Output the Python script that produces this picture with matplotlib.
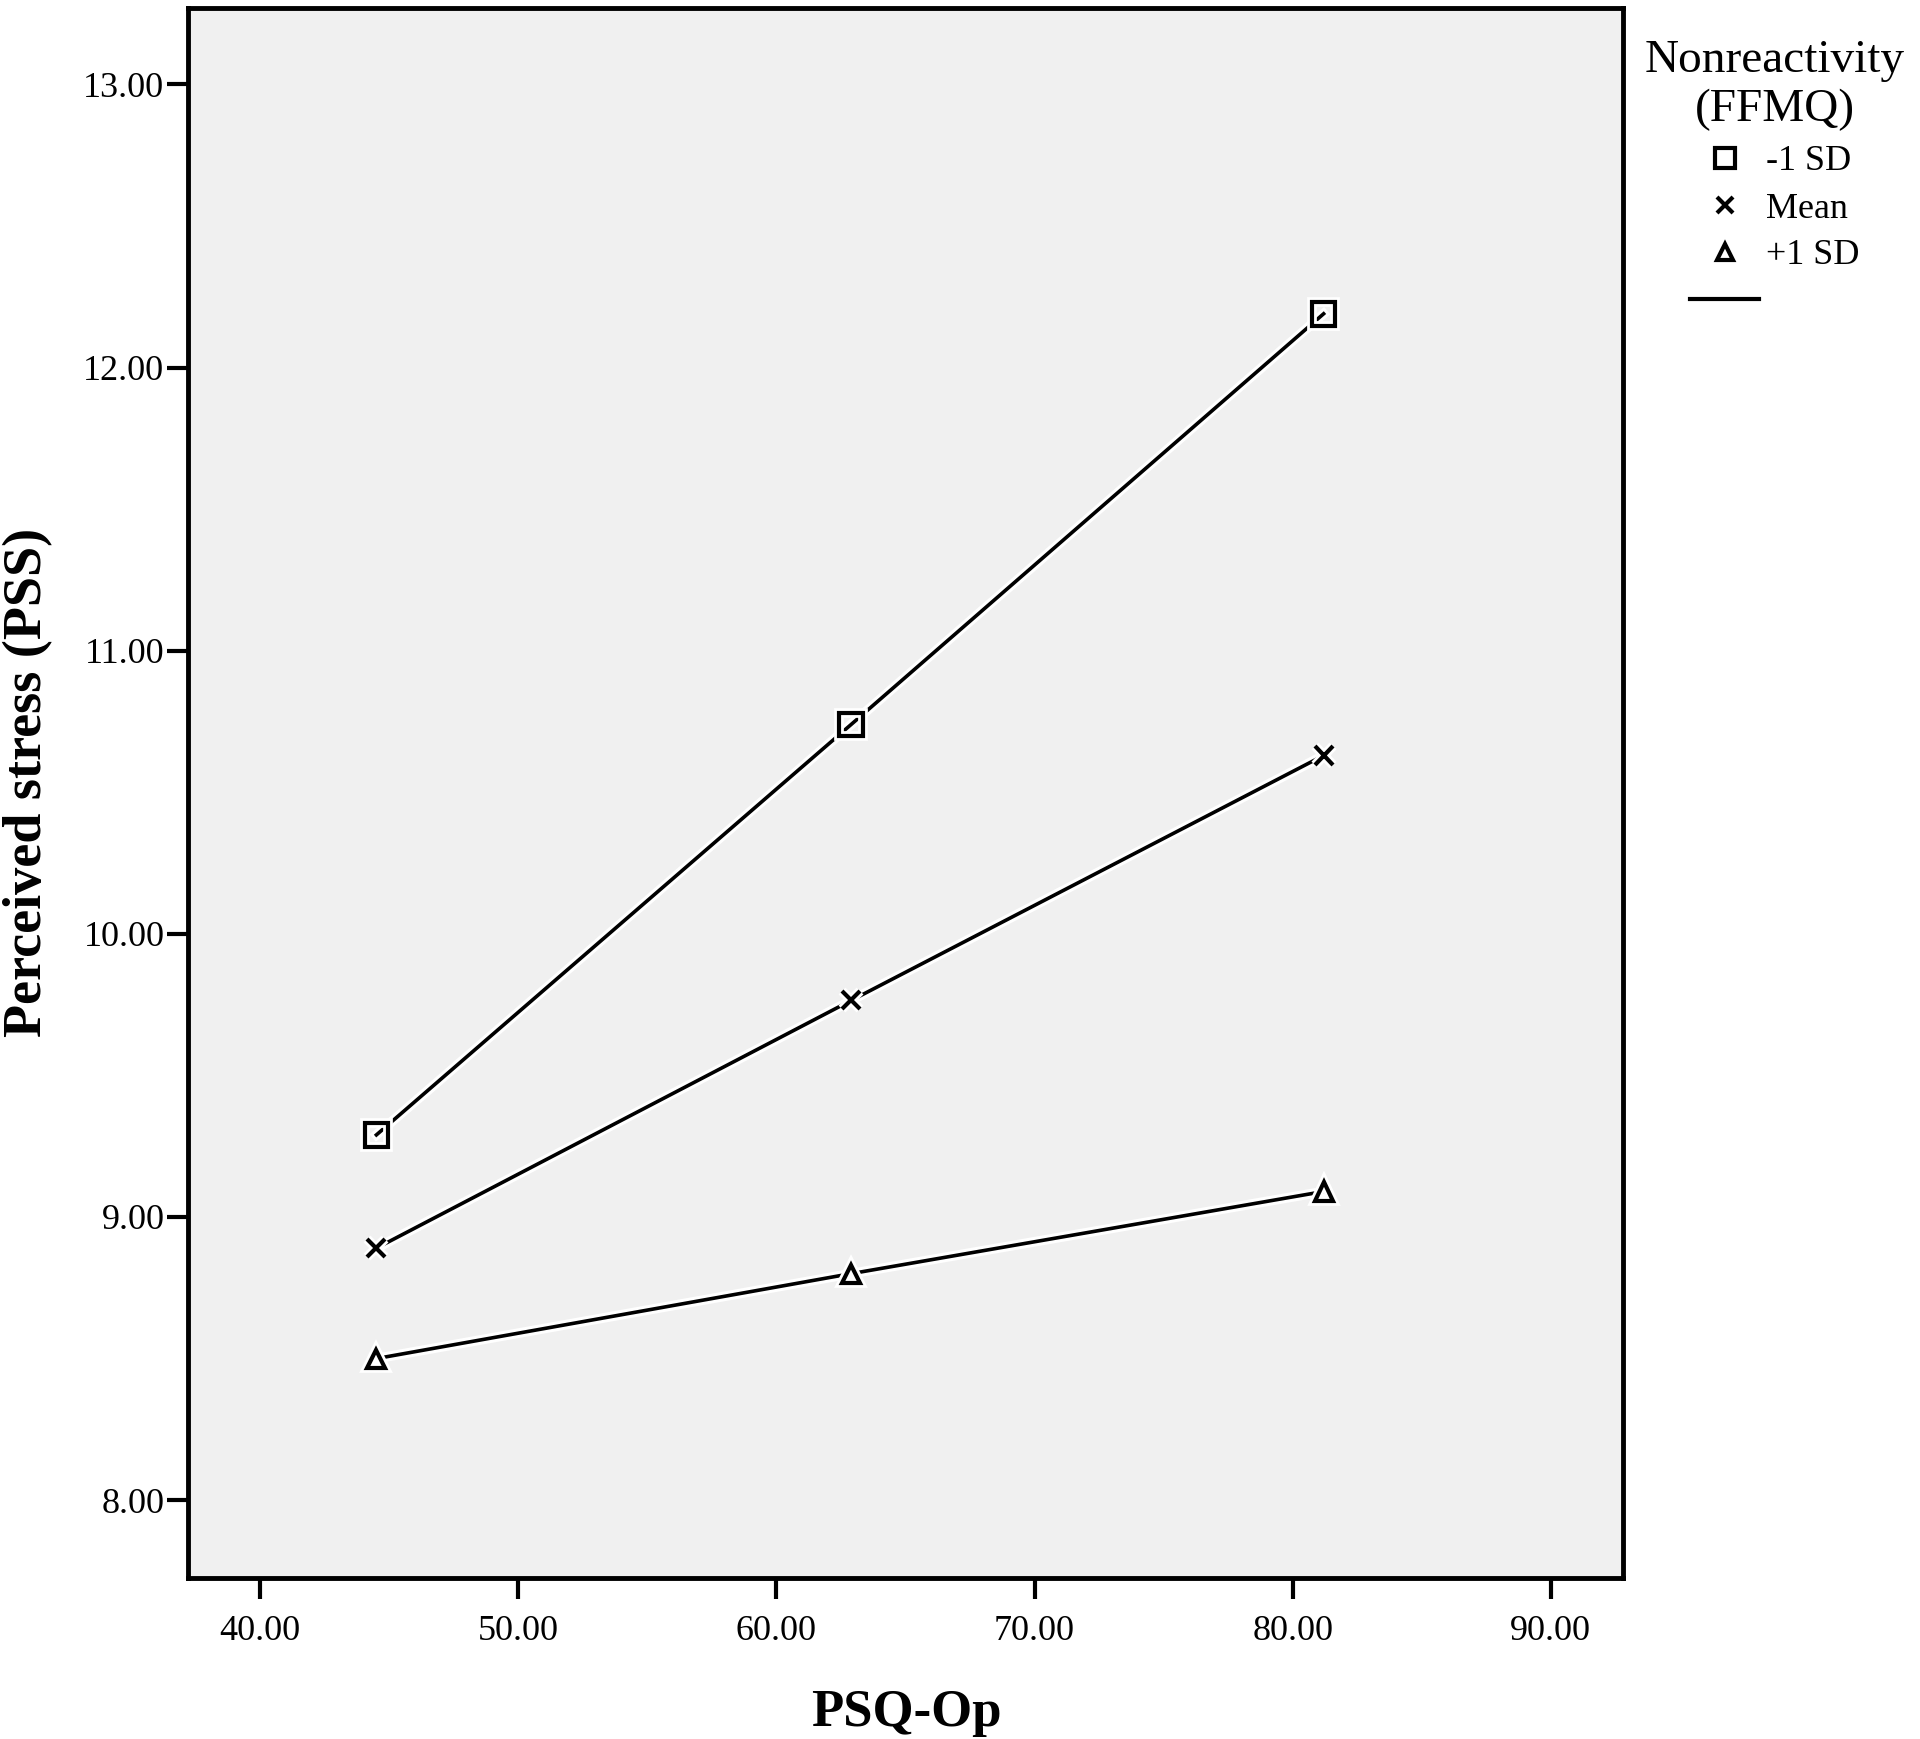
import matplotlib
matplotlib.use("Agg")
import matplotlib.pyplot as plt
from matplotlib.lines import Line2D
import matplotlib.patheffects as pe

# Data
psq_op = [44.5, 62.9, 81.2]
minus_1sd = [9.29, 10.74, 12.19]
mean_vals = [8.89, 9.765, 10.63]
plus_1sd = [8.50, 8.80, 9.09]
series_labels = ["-1 SD", "Mean", "+1 SD"]
xticks = [40, 50, 60, 70, 80, 90]
yticks = [8, 9, 10, 11, 12, 13]

plt.rcParams['font.family'] = ['Liberation Serif', 'DejaVu Serif']

W, H = 1920, 1739
fig = plt.figure(figsize=(W / 100, H / 100), dpi=100)
ax = fig.add_axes([188 / W, 1 - 1578 / H, (1623 - 188) / W, (1578 - 8) / H])
ax.set_facecolor('#f0f0f0')

halo = [pe.Stroke(linewidth=7, foreground='white'), pe.Normal()]
markers = ['s', 'x', '^']
sizes = [17, 13, 13]
for ys, m, ms in zip([minus_1sd, mean_vals, plus_1sd], markers, sizes):
    ax.plot(psq_op, ys, color='black', lw=2.6, marker=m, ms=ms,
            markerfacecolor='none', markeredgecolor='black', markeredgewidth=3,
            path_effects=halo, zorder=3)

ax.set_xlim(37.2, 92.8)
ax.set_ylim(7.725, 13.27)
ax.set_xticks(xticks)
ax.set_yticks(yticks)
ax.set_xticklabels([f"{v:.2f}" for v in xticks])
ax.set_yticklabels([f"{v:.2f}" for v in yticks])
ax.tick_params(axis='both', direction='out', length=15, width=3, labelsize=26,
               pad=2, color='black')
ax.tick_params(axis='x', pad=12)
for s in ax.spines.values():
    s.set_linewidth(3.5)
    s.set_color('black')

fig.text(906 / W, 1 - 1713 / H, "PSQ-Op", fontsize=38, fontweight='bold',
         ha='center', va='center')
fig.text(28 / W, 1 - 782 / H, "Perceived stress (PSS)", fontsize=39,
         fontweight='bold', rotation=90, ha='center', va='center')

handles = [
    Line2D([], [], ls='none', marker='s', ms=15, mfc='none', mec='black', mew=3),
    Line2D([], [], ls='none', marker='x', ms=12, mec='black', mew=3),
    Line2D([], [], ls='none', marker='^', ms=12, mfc='none', mec='black', mew=3),
    Line2D([], [], color='black', lw=3),
]
labels = series_labels + [""]
leg = fig.legend(handles, labels, title="Nonreactivity\n(FFMQ)",
                 loc='upper left', bbox_to_anchor=(1645 / W, 1 - 40 / H),
                 frameon=False, fontsize=26, title_fontsize=34,
                 handlelength=1.9, handletextpad=0.2, labelspacing=0.38,
                 borderpad=0, borderaxespad=0)
leg.get_title().set_multialignment('center')

fig.savefig("out.png", dpi=100)
